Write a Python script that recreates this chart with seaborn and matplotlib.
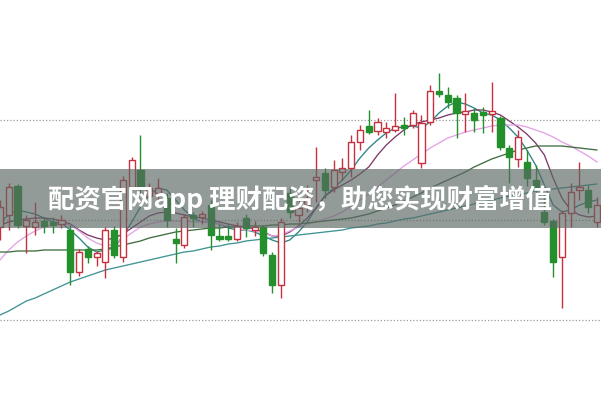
import numpy as np
import pandas as pd
import matplotlib
matplotlib.use("Agg")
import matplotlib.pyplot as plt
from matplotlib.patches import Rectangle
import seaborn as sns

# ---- candle data (price units) ----
opens = [8.93, 9.05, 9.34, 8.94, 8.93, 8.99, 8.98, 8.96, 8.90, 8.48,
         8.71, 8.63, 8.58, 8.90, 8.63, 9.33, 9.50, 9.24, 9.27, 9.22,
         8.81, 8.75, 9.05, 9.03, 9.15, 8.83, 8.83, 8.81, 9.02, 8.90,
         8.93, 8.65, 8.35, 9.27, 9.05, 9.15, 9.40, 9.47, 9.33, 9.48,
         9.52, 9.78, 9.94, 9.89, 9.88, 9.90, 9.95, 9.95, 9.57, 9.98,
         10.29, 10.25, 10.22, 10.06, 10.07, 10.08, 10.06, 10.02, 9.72, 9.61,
         9.58, 9.40, 9.08, 8.99, 8.63, 9.07, 9.30, 9.30, 8.98]
closes = [9.13, 9.33, 8.95, 9.00, 8.98, 8.94, 8.95, 9.00, 8.48, 8.68,
          8.63, 8.67, 8.90, 8.65, 9.40, 9.60, 9.33, 9.32, 9.32, 9.00,
          8.77, 9.03, 9.02, 9.05, 8.85, 8.81, 8.81, 8.94, 8.92, 8.92,
          8.67, 8.35, 8.98, 9.08, 9.12, 9.22, 9.43, 9.30, 9.50, 9.52,
          9.78, 9.90, 9.88, 9.98, 9.92, 9.94, 9.92, 10.07, 9.97, 10.29,
          10.26, 10.18, 10.07, 10.08, 10.00, 10.05, 10.08, 9.73, 9.63, 9.83,
          9.42, 9.32, 8.98, 8.58, 9.07, 9.28, 9.32, 9.13, 9.15]
highs = [9.20, 9.37, 9.36, 9.05, 9.18, 9.02, 9.03, 9.05, 8.95, 8.71,
         8.74, 8.69, 8.93, 8.94, 9.44, 9.63, 9.85, 9.37, 9.42, 9.27,
         8.92, 9.06, 9.08, 9.09, 9.20, 8.96, 8.96, 8.98, 9.06, 8.99,
         8.95, 8.68, 9.02, 9.33, 9.20, 9.35, 9.73, 9.52, 9.60, 9.62,
         9.85, 9.95, 10.10, 10.02, 9.98, 10.27, 10.03, 10.10, 10.05, 10.35,
         10.47, 10.33, 10.25, 10.27, 10.12, 10.13, 10.38, 10.04, 9.75, 9.90,
         9.70, 9.55, 9.25, 9.01, 9.10, 9.37, 9.58, 9.35, 9.23]
lows = [8.80, 8.90, 8.92, 8.67, 8.85, 8.87, 8.87, 8.92, 8.35, 8.44,
        8.57, 8.54, 8.42, 8.62, 8.58, 9.30, 9.27, 9.20, 9.20, 8.93,
        8.57, 8.72, 8.93, 8.96, 8.70, 8.79, 8.79, 8.79, 8.83, 8.84,
        8.64, 8.27, 8.22, 9.02, 8.98, 9.08, 9.18, 9.22, 9.28, 9.40,
        9.43, 9.70, 9.86, 9.85, 9.82, 9.88, 9.85, 9.92, 9.52, 9.95,
        10.23, 10.12, 9.82, 9.88, 9.88, 9.87, 9.88, 9.70, 9.37, 9.53,
        9.34, 9.14, 8.95, 8.43, 8.12, 8.93, 9.20, 9.07, 8.93]

# ---- moving average lines ----
ma5 = [8.98, 9.05, 9.10, 9.08, 9.06, 9.02, 8.98, 8.97, 8.90, 8.82,
       8.73, 8.68, 8.70, 8.72, 8.84, 8.98, 9.13, 9.25, 9.32, 9.30,
       9.20, 9.10, 9.02, 8.98, 8.98, 8.96, 8.92, 8.90, 8.90, 8.88,
       8.84, 8.80, 8.77, 8.80, 8.88, 8.98, 9.12, 9.24, 9.32, 9.40,
       9.50, 9.62, 9.72, 9.80, 9.87, 9.92, 9.93, 9.94, 9.92, 9.98,
       10.07, 10.14, 10.18, 10.16, 10.12, 10.07, 10.05, 10.00, 9.92, 9.83,
       9.70, 9.55, 9.35, 9.15, 9.08, 9.10, 9.15, 9.18, 9.20]
ma10 = [8.95, 8.98, 9.00, 9.01, 9.02, 9.02, 9.01, 8.99, 8.96, 8.90,
        8.85, 8.82, 8.80, 8.82, 8.86, 8.92, 8.98, 9.04, 9.07, 9.08,
        9.07, 9.05, 9.03, 9.02, 9.00, 8.98, 8.96, 8.94, 8.93, 8.91,
        8.88, 8.84, 8.84, 8.88, 8.94, 9.02, 9.12, 9.24, 9.30, 9.35,
        9.40, 9.46, 9.53, 9.65, 9.75, 9.83, 9.90, 9.96, 9.98, 10.00,
        10.02, 10.05, 10.07, 10.08, 10.10, 10.10, 10.08, 10.05, 9.99, 9.93,
        9.86, 9.77, 9.65, 9.42, 9.22, 9.10, 9.05, 9.03, 9.04]
ma20 = [8.60, 8.70, 8.78, 8.84, 8.89, 8.93, 8.95, 8.97, 8.95, 8.89,
        8.82, 8.77, 8.74, 8.76, 8.81, 8.87, 8.93, 8.96, 8.98, 8.99,
        8.99, 8.99, 8.98, 8.98, 8.97, 8.96, 8.94, 8.92, 8.90, 8.89,
        8.87, 8.84, 8.85, 8.89, 8.93, 8.96, 8.98, 9.01, 9.04, 9.08,
        9.14, 9.20, 9.26, 9.33, 9.40, 9.47, 9.54, 9.60, 9.66, 9.72,
        9.77, 9.82, 9.85, 9.88, 9.90, 9.92, 9.94, 9.95, 9.95, 9.95,
        9.93, 9.90, 9.87, 9.83, 9.78, 9.74, 9.69, 9.64, 9.58]
ma30 = [8.68, 8.68, 8.69, 8.69, 8.69, 8.70, 8.70, 8.70, 8.70, 8.70,
        8.70, 8.70, 8.71, 8.73, 8.75, 8.77, 8.79, 8.82, 8.84, 8.86,
        8.88, 8.89, 8.90, 8.91, 8.92, 8.92, 8.93, 8.93, 8.94, 8.94,
        8.94, 8.95, 8.95, 8.96, 8.96, 8.97, 8.98, 8.99, 9.00, 9.01,
        9.02, 9.04, 9.06, 9.09, 9.12, 9.15, 9.19, 9.23, 9.27, 9.32,
        9.36, 9.40, 9.44, 9.48, 9.53, 9.57, 9.61, 9.64, 9.67, 9.70,
        9.72, 9.74, 9.74, 9.74, 9.74, 9.73, 9.72, 9.71, 9.70]
ma60 = [8.05, 8.09, 8.14, 8.19, 8.22, 8.26, 8.30, 8.34, 8.38, 8.41,
        8.44, 8.47, 8.50, 8.52, 8.54, 8.56, 8.58, 8.60, 8.62, 8.64,
        8.66, 8.68, 8.69, 8.71, 8.73, 8.74, 8.76, 8.77, 8.79, 8.80,
        8.81, 8.82, 8.83, 8.84, 8.85, 8.86, 8.87, 8.88, 8.89, 8.90,
        8.92, 8.93, 8.94, 8.96, 8.97, 8.99, 9.01, 9.02, 9.04, 9.06,
        9.08, 9.10, 9.12, 9.14, 9.16, 9.18, 9.20, 9.22, 9.24, 9.25,
        9.27, 9.29, 9.30, 9.31, 9.32, 9.33, 9.34, 9.35, 9.36]

grid_levels = [8.0, 9.0, 10.0]
banner_text = "配资官网app 理财配资，助您实现财富增值"

UP = "#c9303f"
DOWN = "#23902c"

sns.set_style("white")
plt.rcParams["font.family"] = ["Noto Sans CJK SC", "DejaVu Sans"]

fig = plt.figure(figsize=(6.01, 3.99), dpi=100)
ax = fig.add_axes([0, 0, 1, 1])

n = len(opens)
idx = np.arange(n)

# grid
for g in grid_levels:
    ax.axhline(g, color="#9a9a9a", lw=0.9, ls=(0, (1, 1.6)), zorder=0)

# moving averages via seaborn
ma_df = pd.DataFrame({
    "idx": np.tile(idx, 5),
    "value": ma5 + ma10 + ma20 + ma30 + ma60,
    "ma": ["MA5"] * n + ["MA10"] * n + ["MA20"] * n + ["MA30"] * n + ["MA60"] * n,
})
palette = {"MA5": "#2b8585", "MA10": "#7b3a68", "MA20": "#e4a2e4",
           "MA30": "#3f6e3f", "MA60": "#3f9494"}
sns.lineplot(data=ma_df, x="idx", y="value", hue="ma", palette=palette,
             linewidth=0.95, legend=False, ax=ax, zorder=3)

# candles
w = 0.7
for i in range(n):
    o, c, h, l = opens[i], closes[i], highs[i], lows[i]
    up = c >= o
    col = UP if up else DOWN
    ax.vlines(i, l, h, color=col, lw=1.0, zorder=4)
    bottom = min(o, c)
    height = max(abs(c - o), 0.025)
    ax.bar(i, height, bottom=bottom, width=w,
           facecolor="white" if up else col, edgecolor=col,
           linewidth=1.0, zorder=5)

ax.set_xlim(0, 601 / 8.78)
ax.set_ylim(11.2 - 3.99, 11.2)
ax.set_xticks([])
ax.set_yticks([])
ax.set_xlabel("")
ax.set_ylabel("")
for s in ax.spines.values():
    s.set_visible(False)

# banner overlay
fig.add_artist(Rectangle((0, (399 - 228) / 399), 1, 59 / 399,
                         transform=fig.transFigure, facecolor="#5c6865",
                         alpha=0.66, edgecolor="none", zorder=10))
fig.text(0.499, (399 - 199) / 399, banner_text, ha="center", va="center",
         fontsize=19, fontweight="bold", color="white",
         family=["Noto Sans CJK SC", "DejaVu Sans"], zorder=11)

fig.savefig("out.png", dpi=100)
